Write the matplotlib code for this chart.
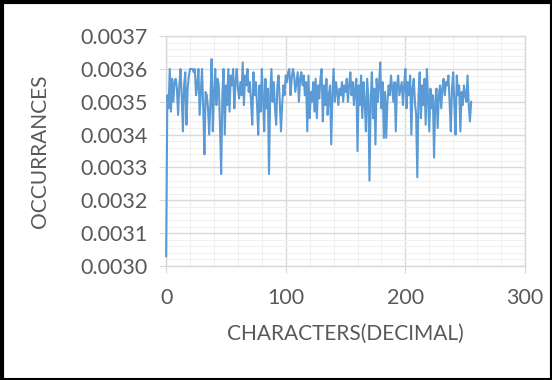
import matplotlib as mpl
import matplotlib.pyplot as plt
from matplotlib.ticker import MultipleLocator, FormatStrFormatter
from matplotlib.lines import Line2D

mpl.use('Agg')

# occurrence frequency per character code, read in units of 1e-5
occ_e5 = [
    303, 352, 348, 360, 347, 357, 350, 356, 357, 354, 346, 355, 360, 352, 341, 355,
    359, 343, 354, 358, 360, 360, 360, 359, 360, 352, 355, 360, 346, 353, 360, 348,
    334, 353, 352, 348, 340, 350, 363, 341, 352, 360, 349, 357, 355, 343, 328, 352,
    360, 340, 355, 349, 360, 347, 358, 355, 360, 348, 356, 360, 354, 351, 356, 352,
    362, 349, 358, 355, 360, 353, 356, 350, 343, 359, 352, 356, 349, 340, 355, 347,
    360, 351, 341, 357, 348, 354, 328, 352, 360, 350, 356, 348, 343, 355, 358, 350,
    341, 349, 355, 352, 358, 356, 359, 360, 352, 357, 360, 358, 353, 356, 359, 350,
    357, 359, 355, 358, 352, 356, 341, 358, 345, 353, 350, 356, 347, 357, 345, 355,
    351, 357, 360, 344, 355, 349, 357, 346, 352, 355, 337, 352, 360, 350, 356, 353,
    349, 354, 352, 356, 350, 355, 353, 357, 350, 355, 359, 352, 356, 349, 354, 357,
    335, 355, 349, 358, 345, 356, 350, 341, 357, 352, 326, 350, 359, 345, 354, 337,
    357, 350, 355, 362, 348, 356, 339, 353, 339, 350, 355, 352, 358, 354, 350, 356,
    341, 355, 358, 352, 354, 356, 349, 355, 360, 348, 356, 352, 358, 340, 354, 357,
    350, 346, 327, 352, 359, 345, 355, 349, 357, 343, 360, 351, 341, 354, 348, 352,
    333, 350, 354, 342, 352, 355, 348, 354, 357, 352, 356, 355, 358, 350, 341, 354,
    359, 349, 340, 358, 352, 355, 341, 353, 349, 355, 352, 350, 358, 349, 344, 350,
]
occurrences = [v / 1e5 for v in occ_e5]
characters = list(range(len(occurrences)))

x_label = "CHARACTERS(DECIMAL)"
y_label = "OCCURRANCES"

plt.rcParams['font.family'] = ['Lato', 'DejaVu Sans']

fig = plt.figure(figsize=(5.52, 3.80), dpi=100)
ax = fig.add_axes([0.301, 0.300, 0.650, 0.605])

# line sits above the spines so the drop at x=0 stays visible
ax.plot(characters, occurrences, color='#5B9BD5', lw=1.5, zorder=3, clip_on=False)

ax.set_xlim(0, 300)
ax.set_ylim(0.0030, 0.0037)
ax.xaxis.set_major_locator(MultipleLocator(100))
ax.xaxis.set_minor_locator(MultipleLocator(20))
ax.yaxis.set_major_locator(MultipleLocator(0.0001))
ax.yaxis.set_minor_locator(MultipleLocator(0.00002))
ax.yaxis.set_major_formatter(FormatStrFormatter('%.4f'))

# Excel style grid
ax.grid(which='major', color='#D9D9D9', lw=1.0)
ax.grid(which='minor', color='#F0F0F0', lw=0.8)
ax.set_axisbelow(True)
for s in ax.spines.values():
    s.set_color('#D9D9D9')
    s.set_linewidth(1.0)

ax.tick_params(which='major', length=5, color='#D9D9D9', labelcolor='#595959',
               labelsize=15.5)
ax.tick_params(axis='y', pad=8)
ax.tick_params(axis='x', pad=11)
ax.tick_params(which='minor', length=0)

ax.set_xlabel(x_label, fontsize=15, color='#595959', labelpad=11)
ax.set_ylabel(y_label, fontsize=15, color='#595959', labelpad=22)

# black frame round the image
fig.add_artist(Line2D([0.004, 0.004], [0, 1], color='black', lw=3))
fig.add_artist(Line2D([0, 1], [0.995, 0.995], color='black', lw=3))
fig.add_artist(Line2D([0.998, 0.998], [0, 1], color='black', lw=1.5))
fig.add_artist(Line2D([0, 1], [0.003, 0.003], color='black', lw=1.5))

plt.savefig('out.png', dpi=100)
plt.close()
